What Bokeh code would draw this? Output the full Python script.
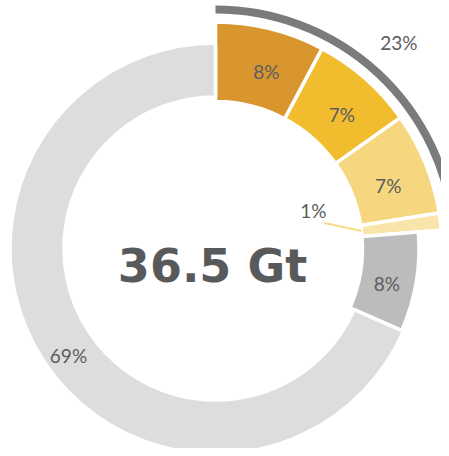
import math
from bokeh.plotting import figure
from bokeh.models import ColumnDataSource, Range1d
from bokeh.core.properties import value
from bokeh.embed import file_html
from bokeh.resources import INLINE

# ---- data ----
labels = ["8%", "7%", "7%", "1%", "8%", "69%"]
shares = [7.8, 7.4, 7.3, 1.2, 7.9, 68.4]
highlight = [True, True, True, True, False, False]
group_label = "23%"
total_label = "36.5 Gt"

# ---- styles ----
colors = ["#d9962f", "#f1bd2e", "#f6d67f", "#f9e4a9", "#bbbcbb", "#dddddd"]
inner_r = [147, 147, 147, 147, 147, 151.5]
outer_r = [226.5, 226.5, 226.5, 226.5, 203.5, 205.5]
label_r = [184, 184, 184, None, 175, 182]
label_da = [-2, -2, -2, 0, -2, 3]
TXT = "#5b5c5e"

# angles (clockwise from 12 o'clock)
starts, ends, mids = [], [], []
cum = 0.0
for s in shares:
    a0 = 90 - cum * 3.6
    cum += s
    a1 = 90 - cum * 3.6
    starts.append(math.radians(a0))
    ends.append(math.radians(a1))
    mids.append(math.radians((a0 + a1) / 2))

src = ColumnDataSource(dict(
    x=[0] * len(shares), y=[0] * len(shares),
    start=starts, end=ends, color=colors, ir=inner_r, orr=outer_r,
))

p = figure(width=441, height=448, output_backend="svg", toolbar_location=None,
           x_range=Range1d(-215, 226), y_range=Range1d(-200, 248),
           x_axis_location=None, y_axis_location=None, min_border=0)
p.grid.visible = False
p.outline_line_color = None
p.background_fill_color = "white"

p.annular_wedge(x="x", y="y", inner_radius="ir", outer_radius="orr",
                start_angle="start", end_angle="end", direction="clock",
                fill_color="color", line_color="white", line_width=3.5, source=src)

# outer bracket arc for the highlighted group
hl_end = ends[max(i for i, h in enumerate(highlight) if h)]
p.arc(x=0, y=0, radius=239, start_angle=starts[0], end_angle=hl_end,
      direction="clock", line_color="#7a7b7d", line_width=8)

# segment labels
lx, ly, lt = [], [], []
for i, lab in enumerate(labels):
    if label_r[i] is None:
        continue
    a = mids[i] + math.radians(label_da[i])
    lx.append(label_r[i] * math.cos(a))
    ly.append(label_r[i] * math.sin(a))
    lt.append(lab)
p.text(x=lx, y=ly, text=lt, text_align="center", text_baseline="middle",
       text_font=value("Lato"), text_font_size="19px", text_color=TXT)

# small slice (1%) with leader line
k = 3
a = mids[k]
ex, ey = inner_r[k] * math.cos(a), inner_r[k] * math.sin(a)
p.line(x=[ex - 37, ex], y=[ey + 8, ey], line_color="#f7d98a", line_width=2)
p.text(x=[ex - 48], y=[ey + 20], text=[labels[k]], text_align="center",
       text_baseline="middle", text_font=value("Lato"), text_font_size="19px",
       text_color=TXT)

# group label
ga = (starts[0] + hl_end) / 2 + math.radians(1)
p.text(x=[276 * math.cos(ga)], y=[276 * math.sin(ga)], text=[group_label],
       text_align="center", text_baseline="middle", text_font=value("Lato"),
       text_font_size="19px", text_color=TXT)

# centre total
p.text(x=[-3], y=[-17], text=[total_label], text_align="center",
       text_baseline="alphabetic", text_font=value("DejaVu Sans"),
       text_font_style="bold", text_font_size="46px", text_color="#58595b")

open("out.html", "w").write(file_html(p, INLINE))
